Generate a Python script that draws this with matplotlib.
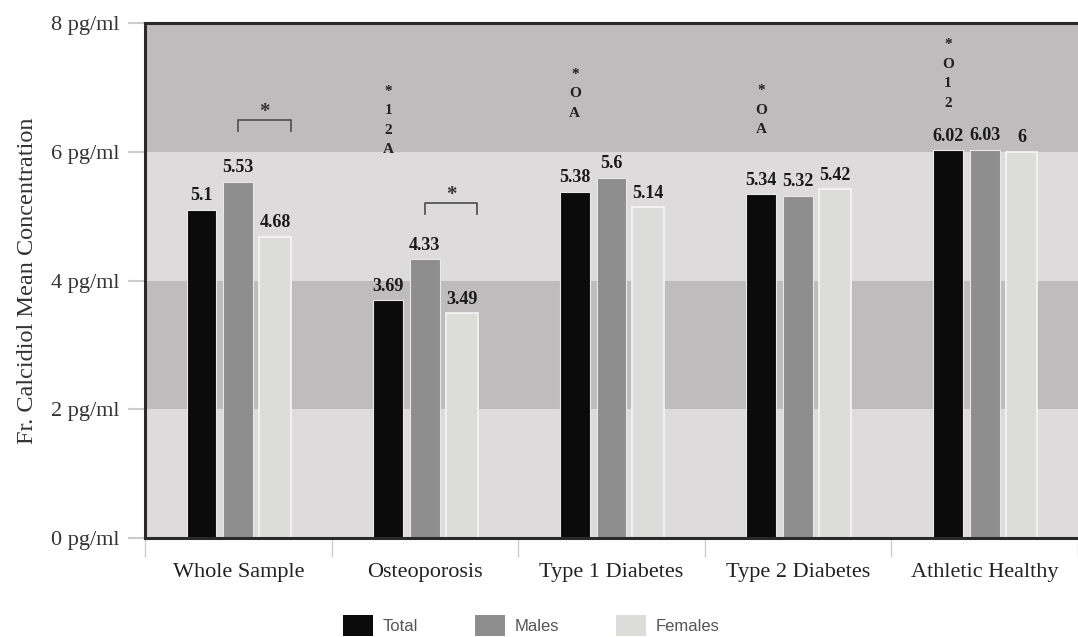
import matplotlib
matplotlib.use("Agg")
import matplotlib.pyplot as plt
import numpy as np

# data
groups = ["Whole Sample", "Osteoporosis", "Type 1 Diabetes", "Type 2 Diabetes", "Athletic Healthy"]
total = [5.10, 3.69, 5.38, 5.34, 6.02]
males = [5.53, 4.33, 5.60, 5.32, 6.03]
females = [4.68, 3.49, 5.14, 5.42, 6.00]
total_lbl = ["5.1", "3.69", "5.38", "5.34", "6.02"]
males_lbl = ["5.53", "4.33", "5.6", "5.32", "6.03"]
females_lbl = ["4.68", "3.49", "5.14", "5.42", "6"]

# significance marks stacked above the Total bar
sig_marks = ["", "*\n1\n2\nA", "*\nO\nA", "*\nO\nA", "*\nO\n1\n2"]
sig_base = [None, 5.93, 6.50, 6.24, 6.65]

# male vs female brackets: (group index, bracket top)
brackets = [(0, 6.49), (1, 5.20)]

yticks = [0, 2, 4, 6, 8]
ytick_labels = ["%d pg/ml" % v for v in yticks]

serif = ["Liberation Serif", "DejaVu Serif"]

fig = plt.figure(figsize=(10.78, 6.37), dpi=100)
ax = fig.add_axes([0.1345, 0.1554, 0.8655, 0.8085])

x = np.arange(len(groups))
off = 0.197
w = 0.16

# background bands
band_dark = "#bebcbd"
band_light = "#dddbdc"
for lo, hi, c in [(0, 2, band_light), (2, 4, band_dark), (4, 6, band_light), (6, 8, band_dark)]:
    ax.axhspan(lo, hi, color=c, zorder=0, lw=0)

b1 = ax.bar(x - off, total, w, color="#0b0b0b", edgecolor="#e8e8e8", lw=0.8, zorder=2, label="Total")
b2 = ax.bar(x, males, w, color="#8e8e8e", edgecolor="#e8e8e8", lw=0.8, zorder=2, label="Males")
b3 = ax.bar(x + off, females, w + 0.01, color="#dcdcd8", edgecolor="#f6f6f6", lw=1.2, zorder=2, label="Females")

for bars, labs in [(b1, total_lbl), (b2, males_lbl), (b3, females_lbl)]:
    for b, t in zip(bars, labs):
        ax.annotate(t, (b.get_x() + b.get_width() / 2, b.get_height()), xytext=(0, 4),
                    textcoords="offset points", ha="center", va="bottom",
                    fontsize=13, fontweight="bold", family=serif, color="#1a1a1a")

for i, s in enumerate(sig_marks):
    if s:
        ax.text(x[i] - off, sig_base[i], s, ha="center", va="bottom", fontsize=11,
                fontweight="bold", family=serif, color="#222222", linespacing=1.65)

for i, top in brackets:
    x0, x1 = x[i] + 0.0, x[i] + 0.28
    ax.plot([x0, x0, x1, x1], [top - 0.17, top, top, top - 0.17], color="#555555", lw=1.3, zorder=3)
    ax.text((x0 + x1) / 2, top - 0.03, "*", ha="center", va="bottom", fontsize=15,
            fontweight="bold", family=serif, color="#333333")

ax.set_xlim(-0.5, 4.46)
ax.set_ylim(0, 8)
ax.set_yticks(yticks)
ax.set_yticklabels(ytick_labels, family=serif, fontsize=16, color="#333333")
ax.tick_params(axis="y", length=12, width=1.5, color="#cccccc", pad=6)

ax.set_xticks(x)
ax.set_xticklabels(groups, family=serif, fontsize=16, color="#222222")
ax.set_xticks(np.arange(-0.5, 4.6, 1), minor=True)
ax.tick_params(axis="x", which="major", length=0, pad=18)
ax.tick_params(axis="x", which="minor", length=14, width=1, color="#cccccc")

ax.set_ylabel("Fr. Calcidiol Mean Concentration", family=serif, fontsize=17.5, color="#333333", labelpad=10)

for s in ["top", "left", "bottom"]:
    ax.spines[s].set_color("#2a2a2a")
    ax.spines[s].set_linewidth(2.2)
ax.spines["right"].set_visible(False)

leg = fig.legend(handles=[b1, b2, b3], loc="center", bbox_to_anchor=(0.493, 0.018), ncol=3,
                 frameon=False, prop={"family": ["Liberation Sans", "DejaVu Sans"], "size": 12},
                 handlelength=1.8, handleheight=1.6, handletextpad=0.6, columnspacing=3.4)
for t in leg.get_texts():
    t.set_color("#555555")
for h in leg.legend_handles:
    h.set_edgecolor("none")

fig.savefig("out.png", dpi=100)
